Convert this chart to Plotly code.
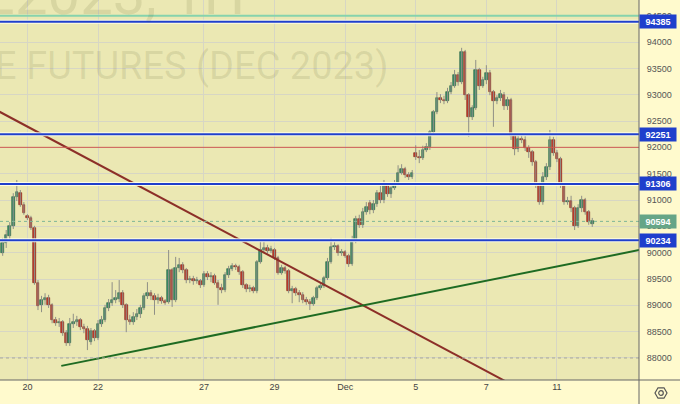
import plotly.graph_objects as go
import math

# ---------------- data ----------------
opens = [89990, 90180, 90320, 90510, 91060, 91130, 90910,
         90700, 90660, 90470, 89420, 89010, 89100, 89140, 89010, 88720, 88660,
         88680, 88470, 88280, 88650, 88680, 88720, 88590, 88550, 88300, 88510,
         88380, 88650, 88720, 88950, 89040, 89100, 89120, 89230, 89010, 88720,
         88680, 88780, 88840, 88950, 89180, 89230, 89180, 89100, 89140, 89080,
         89060, 89670, 89100, 89710, 89770, 89670, 89480, 89500, 89460, 89460,
         89390, 89600, 89540, 89560, 89420, 89330, 89290, 89580, 89690, 89750,
         89730, 89630, 89390, 89310, 89330, 89270, 89820, 90050, 90090, 90030,
         90050, 89900, 89610, 89710, 89650, 89270, 89310, 89230, 89200, 89100,
         89060, 89030, 89140, 89330, 89370, 89520, 89820, 90110, 90130, 89990,
         90010, 89940, 89790, 90240, 90640, 90530, 90770, 90940, 90810, 90920,
         91130, 91000, 91270, 91110, 91230, 91300, 91510, 91590, 91480, 91440,
         91890, 91820, 91800, 91950, 92010, 92290, 92670, 92940, 92900, 92880,
         93050, 93170, 93370, 93240, 93810, 92990, 92580, 92750, 93470, 93170,
         93280, 93410, 93050, 92880, 92940, 92990, 92790, 92900, 92220, 91970,
         92160, 92140, 91990, 91910, 91720, 91290, 90960, 91440, 91630, 92140,
         91890, 91780, 91290, 90960, 90980, 90850, 90510, 90850, 91000, 90770,
         90540]
highs = [90280, 90430, 90580, 91130, 91380, 91190, 90960,
         90730, 90700, 90510, 89480, 89180, 89230, 89200, 89040, 88780, 88760,
         88720, 88530, 88760, 88840, 88800, 88760, 88650, 88610, 88570, 88550,
         88720, 88800, 89010, 89120, 89440, 89290, 89480, 89290, 89040, 88820,
         88870, 88930, 89010, 89230, 89440, 89290, 89230, 89220, 89180, 89120,
         90050, 89710, 89920, 89900, 89820, 89710, 89560, 89560, 89540, 89500,
         89650, 89650, 89630, 89600, 89480, 89410, 89630, 89750, 89800, 89790,
         89770, 89670, 89420, 89390, 89370, 89860, 90240, 90240, 90150, 90130,
         90090, 89940, 89770, 89750, 89690, 89370, 89350, 89290, 89250, 89160,
         89120, 89180, 89370, 89420, 89560, 89900, 90280, 90200, 90160, 90070,
         90050, 89980, 90320, 90700, 90720, 90850, 90960, 91000, 91000, 91190,
         91270, 91380, 91320, 91300, 91380, 91660, 91680, 91630, 91530, 91570,
         92040, 91950, 92030, 92080, 92330, 92710, 93050, 93010, 92980, 93130,
         93240, 93470, 93430, 93890, 93850, 93030, 92800, 93660, 93510, 93340,
         93560, 93470, 93090, 92990, 93090, 93050, 92960, 92940, 92270, 92220,
         92250, 92220, 92040, 91950, 91760, 91340, 91530, 91700, 92330, 92200,
         91950, 91820, 91320, 91060, 91080, 90890, 90920, 91080, 91040, 90810,
         90660]
lows = [89940, 90090, 90240, 90450, 90980, 90870, 90720,
        90620, 90430, 89390, 88910, 88870, 89010, 88950, 88660, 88610, 88590,
        88420, 88230, 88230, 88570, 88610, 88530, 88470, 88150, 88250, 88320,
        88340, 88590, 88680, 88890, 88990, 89040, 89060, 88950, 88490, 88630,
        88630, 88720, 88760, 88910, 89120, 89100, 88820, 89030, 89030, 89010,
        89030, 88970, 89060, 89630, 89610, 89420, 89420, 89390, 89410, 89330,
        89350, 89480, 89440, 89390, 89010, 89230, 89250, 89520, 89650, 89670,
        89580, 89330, 89250, 89250, 89230, 89230, 89790, 89990, 89980, 89990,
        89860, 89580, 89580, 89600, 89230, 89040, 89180, 89060, 89040, 89010,
        88910, 88990, 89100, 89290, 89330, 89480, 89790, 90050, 89940, 89940,
        89900, 89730, 89750, 90180, 90470, 90470, 90720, 90730, 90750, 90870,
        90940, 90940, 91060, 91040, 91190, 91270, 91480, 91420, 91380, 91400,
        91760, 91700, 91760, 91910, 91950, 92250, 92630, 92840, 92820, 92840,
        93010, 93130, 93170, 93200, 92900, 92200, 92520, 92710, 93090, 93130,
        93200, 92990, 92390, 92820, 92880, 92710, 92710, 92140, 91850, 91910,
        92080, 91930, 91800, 91650, 91230, 90910, 90910, 91380, 91570, 91840,
        91720, 91230, 90910, 90910, 90770, 90430, 90470, 90770, 90720, 90530,
        90490]
closes = [90180, 90340, 90510, 91060, 91150, 90910, 90750,
          90660, 90470, 89420, 88990, 89100, 89140, 89010, 88720, 88660, 88680,
          88470, 88280, 88650, 88680, 88720, 88590, 88550, 88340, 88510, 88380,
          88650, 88720, 88950, 89040, 89100, 89140, 89230, 89010, 88720, 88680,
          88780, 88840, 88950, 89180, 89230, 89180, 89100, 89140, 89080, 89040,
          89670, 89100, 89710, 89770, 89670, 89480, 89500, 89460, 89480, 89390,
          89600, 89540, 89560, 89420, 89330, 89290, 89580, 89690, 89750, 89730,
          89630, 89390, 89310, 89330, 89270, 89820, 90050, 90090, 90030, 90070,
          89900, 89610, 89710, 89650, 89270, 89310, 89230, 89200, 89100, 89060,
          89030, 89140, 89330, 89370, 89520, 89820, 90110, 90130, 89990, 90010,
          89940, 89790, 90240, 90640, 90530, 90770, 90870, 90810, 90920, 91130,
          91000, 91300, 91110, 91230, 91300, 91510, 91590, 91480, 91440, 91510,
          91820, 91800, 91950, 92010, 92290, 92670, 92940, 92900, 92880, 93050,
          93170, 93370, 93240, 93810, 92990, 92580, 92750, 93470, 93170, 93280,
          93410, 93050, 92880, 92940, 93010, 92790, 92900, 92220, 91970, 92160,
          92140, 91990, 91910, 91720, 91290, 90960, 91440, 91630, 92140, 91890,
          91780, 91290, 90960, 90980, 90850, 90510, 90850, 91000, 90770, 90580,
          90594]

# time axis: bar index of first bar of each labelled day
day_bars = [7, 27, 57, 77, 97, 117, 137, 157]
day_labels = ["20", "22", "27", "29", "Dec", "5", "7", "11"]

price_ticks = [88000, 88500, 89000, 89500, 90000, 90500, 91000, 91500,
               92000, 92500, 93000, 93500, 94000, 94500]

levels = [94385, 92251, 91306, 90234]     # blue horizontal levels
top_line = 94500                          # mint line
red_line = 92000                          # thin red line
low_dotted = 88000                        # dotted line
last_price = closes[-1]

resist_x = [-1, 146]
resist_y = [92680, 87430]
support_x = [16.6, 185]
support_y = [87850, 90113]

X_RANGE = [-0.76, 180.24]
Y_RANGE = [87582, 94798]

# ---------------- figure ----------------
bars = list(range(len(closes)))
up = [c >= o for o, c in zip(opens, closes)]
body_base = [min(o, c) for o, c in zip(opens, closes)]
body_h = [max(abs(c - o), 12) for o, c in zip(opens, closes)]

GREEN = "#3B8C68"
GREEN_E = "#1F5C40"
RED = "#C23A2C"
RED_E = "#7A1D14"

fig = go.Figure()
fig.add_trace(go.Ohlc(x=bars, open=opens, high=highs, low=lows, close=closes,
                      tickwidth=0,
                      increasing=dict(line=dict(color="#8F8F86", width=1)),
                      decreasing=dict(line=dict(color="#8F8F86", width=1)),
                      hoverinfo="skip"))
fig.add_trace(go.Bar(x=bars, y=body_h, base=body_base, width=0.72,
                     marker=dict(color=[GREEN if u else RED for u in up],
                                 line=dict(color=[GREEN_E if u else RED_E for u in up], width=0.6)),
                     hoverinfo="skip"))
fig.add_trace(go.Scatter(x=resist_x, y=resist_y, mode="lines",
                         line=dict(color="#8C2F28", width=2), hoverinfo="skip"))
fig.add_trace(go.Scatter(x=support_x, y=support_y, mode="lines",
                         line=dict(color="#1E6B22", width=2), hoverinfo="skip"))

shapes = []
shapes.append(dict(type="line", xref="paper", x0=0, x1=1, yref="y", y0=top_line, y1=top_line,
                   line=dict(color="#86D3AD", width=2)))
shapes.append(dict(type="line", xref="paper", x0=0, x1=1, yref="y", y0=red_line, y1=red_line,
                   line=dict(color="#CF5A50", width=1)))
shapes.append(dict(type="line", xref="paper", x0=0, x1=1, yref="y", y0=low_dotted, y1=low_dotted,
                   line=dict(color="#A8A89A", width=1, dash="dot")))
shapes.append(dict(type="line", xref="paper", x0=0, x1=1, yref="y", y0=last_price, y1=last_price,
                   line=dict(color="#7FB596", width=1, dash="dot")))
for lv in levels:
    shapes.append(dict(type="line", xref="paper", x0=0, x1=1, yref="y", y0=lv, y1=lv,
                       line=dict(color="rgba(255,255,235,0.9)", width=4)))
    shapes.append(dict(type="line", xref="paper", x0=0, x1=1, yref="y", y0=lv, y1=lv,
                       line=dict(color="#1F3FCC", width=2)))

PW, PH = 639.0, 380.0
def pp(px, py):
    return px / PW, 1 - py / PH

# axis frame lines
shapes.append(dict(type="line", xref="paper", yref="paper", x0=1, x1=1, y0=-0.1, y1=1,
                   line=dict(color="#666666", width=1)))
shapes.append(dict(type="line", xref="paper", yref="paper", x0=0, x1=1.2, y0=0, y1=0,
                   line=dict(color="#666666", width=1)))
# settings icon (hexagon + circle)
cx, cy, r = 661, 393, 6
pts = [pp(cx + r * math.cos(math.radians(a)), cy + r * math.sin(math.radians(a)))
       for a in range(0, 360, 60)]
path = "M " + " L ".join(f"{x:.5f},{y:.5f}" for x, y in pts) + " Z"
shapes.append(dict(type="path", xref="paper", yref="paper", path=path,
                   line=dict(color="#555555", width=1.2)))
c0 = pp(cx - 2.3, cy - 2.3); c1 = pp(cx + 2.3, cy + 2.3)
shapes.append(dict(type="circle", xref="paper", yref="paper", x0=c0[0], y0=c0[1], x1=c1[0], y1=c1[1],
                   line=dict(color="#555555", width=1.2)))

annotations = []
WM = "rgba(90,90,50,0.13)"
x1, y1 = pp(247, -6)
annotations.append(dict(xref="paper", yref="paper", x=x1, y=y1, xanchor="right", yanchor="middle",
                        text="SIZ2023, 1H", showarrow=False,
                        font=dict(family="Roboto", size=58, color=WM)))
x2, y2 = pp(390, 66)
annotations.append(dict(xref="paper", yref="paper", x=x2, y=y2, xanchor="right", yanchor="middle",
                        text="US DOLLAR / RUSSIAN RUBLE FUTURES (DEC 2023)", showarrow=False,
                        font=dict(family="Roboto", size=38, color=WM)))

def tag(price, color):
    return dict(xref="paper", yref="y", x=1, y=price, xanchor="left", yanchor="middle",
                text=f"<b>{price}</b>", showarrow=False, bgcolor=color, width=34, height=11,
                borderpad=1, font=dict(family="Liberation Sans", size=9, color="white"))

for lv in levels:
    annotations.append(tag(lv, "#1F3FCC"))
annotations.append(tag(last_price, "#66A587"))

fig.update_layout(
    width=680, height=404,
    margin=dict(l=0, r=41, t=0, b=24, autoexpand=False),
    paper_bgcolor="#FFFACD", plot_bgcolor="#EBE8B3",
    showlegend=False, bargap=0,
    shapes=shapes, annotations=annotations,
    xaxis=dict(range=X_RANGE, tickmode="array", tickvals=day_bars, ticktext=day_labels,
               showgrid=True, gridcolor="#D7D6C4", gridwidth=1, zeroline=False, showline=False,
               ticks="", tickfont=dict(family="Liberation Sans", size=9, color="#444444"),
               rangeslider=dict(visible=False), fixedrange=True, automargin=False),
    yaxis=dict(range=Y_RANGE, side="right", tickmode="array", tickvals=price_ticks,
               ticktext=[str(t) for t in price_ticks],
               showgrid=True, gridcolor="#D7D6C4", gridwidth=1, zeroline=False, showline=False,
               ticks="outside", ticklen=5, tickcolor="#FFFACD", automargin=False,
               tickfont=dict(family="Liberation Sans", size=9, color="#555555"), fixedrange=True),
)

fig.write_html("out.html", config={"displayModeBar": False},
               post_script="document.body.style.margin='0';document.body.style.overflow='hidden';")
